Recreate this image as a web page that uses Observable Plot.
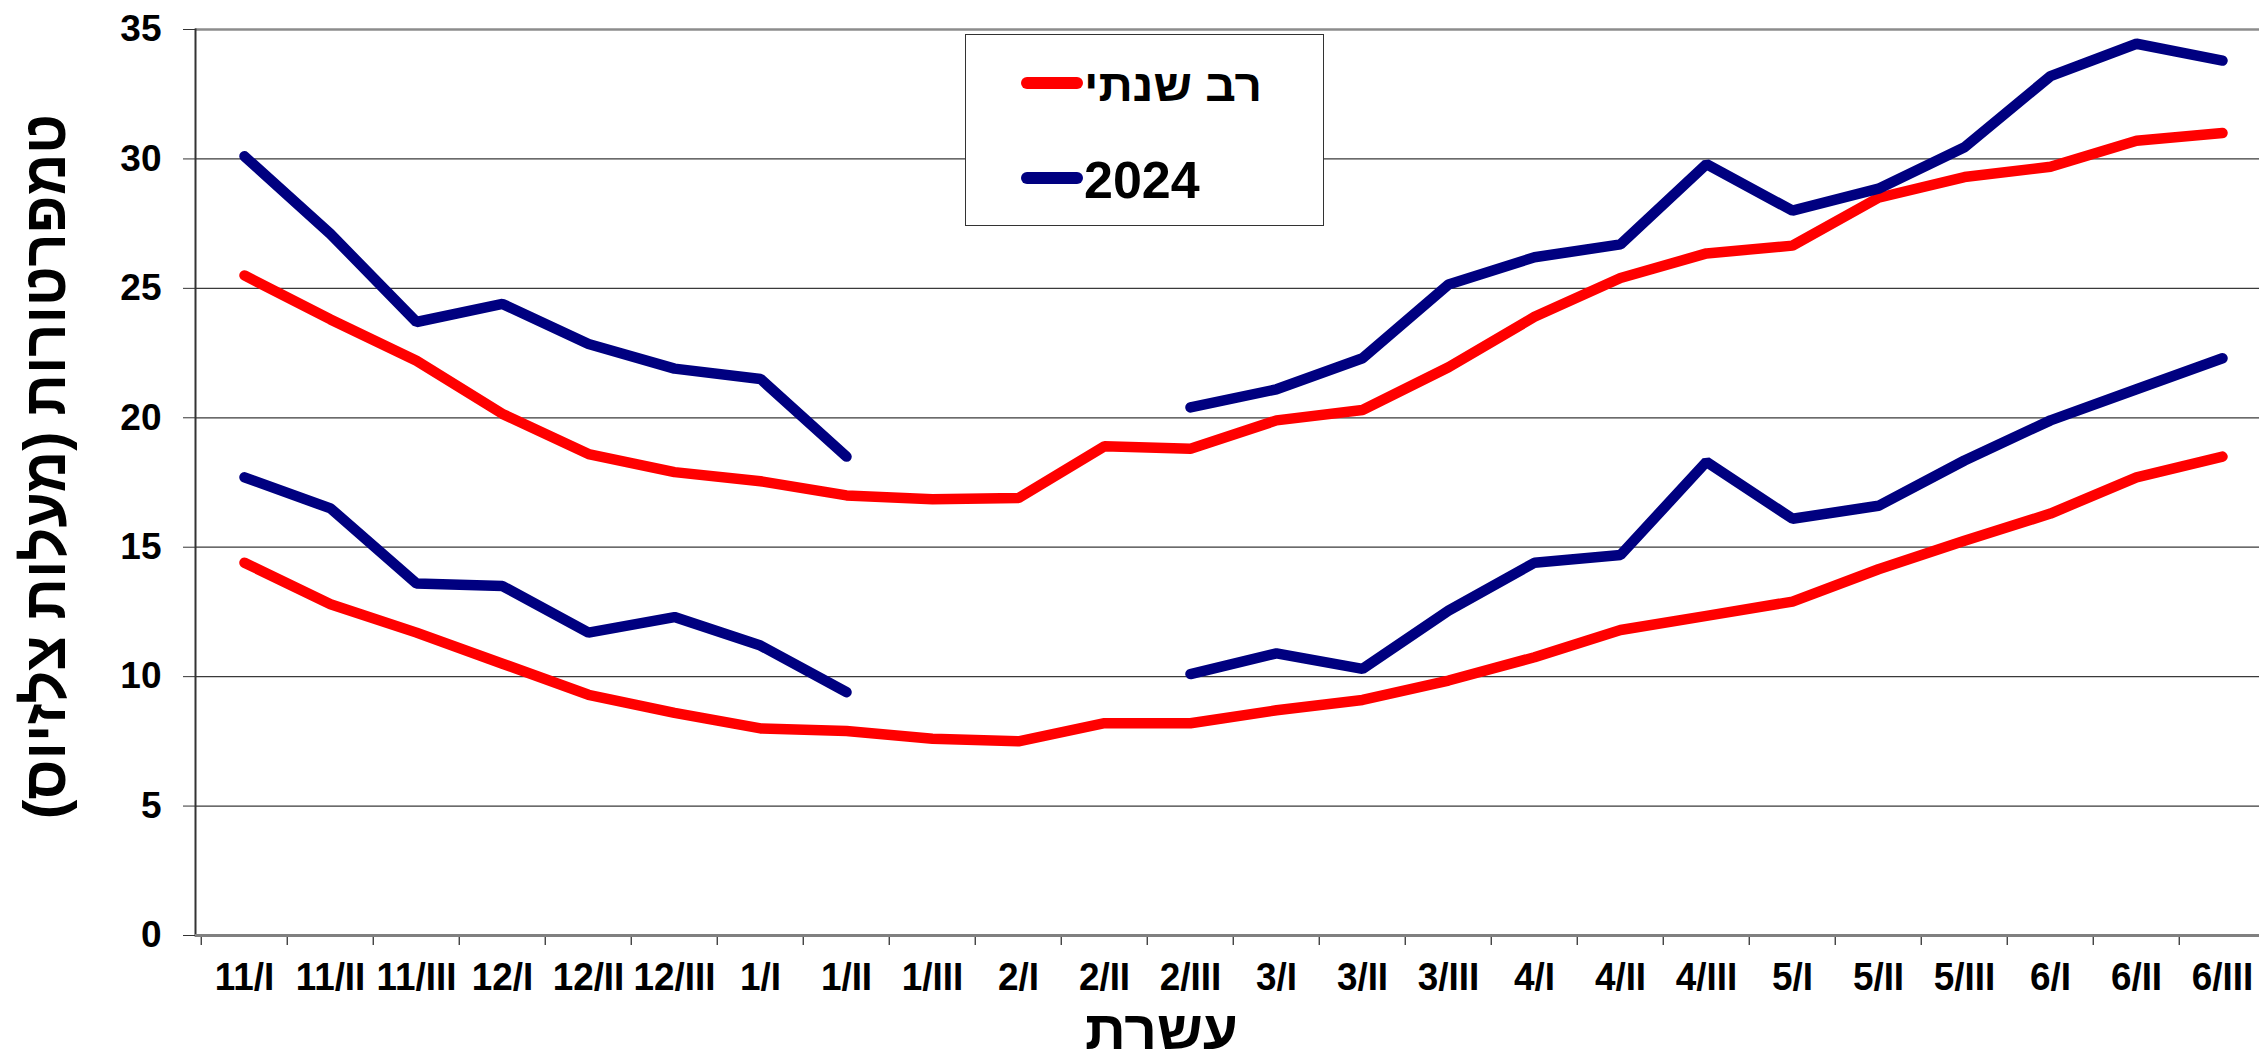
<!DOCTYPE html>
<html><head><meta charset="utf-8">
<script src="https://cdn.jsdelivr.net/npm/d3@7"></script>
<script src="https://cdn.jsdelivr.net/npm/@observablehq/plot@0.6"></script>
<style>
html,body{margin:0;padding:0;background:#fff;overflow:hidden;}
#wrap{position:relative;width:2259px;height:1049px;font-family:"Liberation Sans",Arial,sans-serif;}
#legend{position:absolute;left:965px;top:34px;width:359px;height:192px;box-sizing:border-box;border:1.5px solid #333;background:#fff;}
#legend svg{position:absolute;left:0;top:0;overflow:visible;}
</style></head><body><div id="wrap"></div>
<script>
const categories = ["11/I","11/II","11/III","12/I","12/II","12/III","1/I","1/II","1/III","2/I","2/II","2/III","3/I","3/II","3/III","4/I","4/II","4/III","5/I","5/II","5/III","6/I","6/II","6/III"];
const seriesNames = ["רב שנתי", "2024"];
const seriesColors = ["#ff0000", "#000080"];
const avgMax = [25.5, 23.8, 22.2, 20.15, 18.6, 17.9, 17.55, 17.0, 16.85, 16.9, 18.9, 18.8, 19.9, 20.3, 21.95, 23.9, 25.4, 26.35, 26.65, 28.5, 29.3, 29.7, 30.7, 31.0];
const avgMin = [14.4, 12.8, 11.7, 10.5, 9.3, 8.6, 8.0, 7.9, 7.6, 7.5, 8.2, 8.2, 8.7, 9.1, 9.85, 10.75, 11.8, 12.35, 12.9, 14.15, 15.25, 16.3, 17.7, 18.5];
const max2024 = [30.1, 27.1, 23.7, 24.4, 22.85, 21.9, 21.5, 18.5, null, null, null, 20.4, 21.1, 22.3, 25.15, 26.2, 26.7, 29.8, 28.0, 28.85, 30.45, 33.2, 34.45, 33.8];
const min2024 = [17.7, 16.5, 13.6, 13.5, 11.7, 12.3, 11.2, 9.4, null, null, null, 10.1, 10.9, 10.3, 12.55, 14.4, 14.7, 18.3, 16.1, 16.6, 18.35, 19.9, 21.1, 22.3];
const yTicks = [0, 5, 10, 15, 20, 25, 30, 35];
const yTitle = "\u200Fטמפרטורות (מעלות צלזיוס)\u200F";
const xTitle = "עשרת";

const rows = [];
function add(arr, series, kind) {
  categories.forEach((c, i) => rows.push({cat: c, value: arr[i], series, key: series + "-" + kind}));
}
add(avgMax, seriesNames[0], "max");
add(avgMin, seriesNames[0], "min");
add(max2024, seriesNames[1], "max");
add(min2024, seriesNames[1], "min");

const W = 2259, H = 1049, ML = 195, MR = -12;
const bw = (W - MR - ML) / categories.length;
const font = "'Liberation Sans', Arial, sans-serif";

const chart = Plot.plot({
  width: W, height: H,
  marginLeft: ML, marginRight: MR, marginTop: 29, marginBottom: 114,
  style: {fontFamily: font, background: "#fff", overflow: "hidden"},
  x: {type: "band", domain: categories, padding: 0},
  y: {domain: [0, 35]},
  color: {domain: seriesNames, range: seriesColors},
  marks: [
    Plot.ruleY(yTicks.filter(t => t > 0 && t < 35), {stroke: "#3a3a3a", strokeWidth: 1.3}),
    Plot.ruleY([35], {stroke: "#8c8c8c", strokeWidth: 2.5}),
    Plot.frame({anchor: "left", stroke: "#333", strokeWidth: 2}),
    Plot.axisY({ticks: yTicks, tickSize: 12, tickPadding: 22, fontSize: 37, fontWeight: "bold", label: null, stroke: "#333", fill: "#000"}),
    Plot.axisX({tickSize: 0, tickPadding: 28, fontSize: 38, fontWeight: "bold", label: null, fill: "#000"}),
    Plot.axisX({tickSize: 10, tickFormat: () => "", dx: -bw / 2, stroke: "#333", strokeWidth: 1.3, label: null}),
    Plot.ruleY([0], {stroke: "#808080", strokeWidth: 3}),
    Plot.line(rows, {x: "cat", y: "value", z: "key", stroke: "series", strokeWidth: 10.5, strokeLinejoin: "miter", strokeLinecap: "round"}),
    Plot.text([yTitle], {text: d => d, frameAnchor: "left", textAnchor: "middle", rotate: -90, dx: -150, dy: -16, fontSize: 60, fontWeight: "bold", fill: "#000"}),
    Plot.text([xTitle], {text: d => d, frameAnchor: "bottom", textAnchor: "middle", dx: -72, dy: 113, lineAnchor: "bottom", fontSize: 55, fontWeight: "bold", fill: "#000"})
  ]
});

const wrap = document.getElementById("wrap");
wrap.appendChild(chart);

// slightly condense x tick labels (narrow bold look of the original)
d3.select(chart).selectAll("g[aria-label='x-axis tick label'] text").each(function() {
  const len = this.getComputedTextLength();
  if (len > 0) {
    this.setAttribute("textLength", (len * 0.97).toFixed(1));
    this.setAttribute("lengthAdjust", "spacingAndGlyphs");
  }
});
// fit titles to the original's extents
d3.select(chart).selectAll("text").each(function() {
  if (this.textContent === yTitle) {
    this.setAttribute("textLength", 705);
    this.setAttribute("lengthAdjust", "spacingAndGlyphs");
  } else if (this.textContent === xTitle) {
    this.setAttribute("textLength", 153);
    this.setAttribute("lengthAdjust", "spacingAndGlyphs");
  }
});

// legend
const legend = document.createElement("div");
legend.id = "legend";
const ns = "http://www.w3.org/2000/svg";
const lsvg = document.createElementNS(ns, "svg");
lsvg.setAttribute("width", 359); lsvg.setAttribute("height", 192);
const entries = [{name: seriesNames[0], color: seriesColors[0], cy: 48, base: 66, size: 45, len: 178},
                 {name: seriesNames[1], color: seriesColors[1], cy: 143, base: 163, size: 52, len: null}];
for (const e of entries) {
  const l = document.createElementNS(ns, "line");
  l.setAttribute("x1", 61); l.setAttribute("x2", 111);
  l.setAttribute("y1", e.cy); l.setAttribute("y2", e.cy);
  l.setAttribute("stroke", e.color); l.setAttribute("stroke-width", 12); l.setAttribute("stroke-linecap", "round");
  lsvg.appendChild(l);
  const t = document.createElementNS(ns, "text");
  t.setAttribute("x", 118); t.setAttribute("y", e.base);
  t.setAttribute("font-size", e.size); t.setAttribute("font-weight", "bold");
  t.setAttribute("font-family", font);
  if (e.len) { t.setAttribute("textLength", e.len); t.setAttribute("lengthAdjust", "spacingAndGlyphs"); }
  t.textContent = e.name;
  lsvg.appendChild(t);
}
legend.appendChild(lsvg);
wrap.appendChild(legend);
</script>
</body></html>
